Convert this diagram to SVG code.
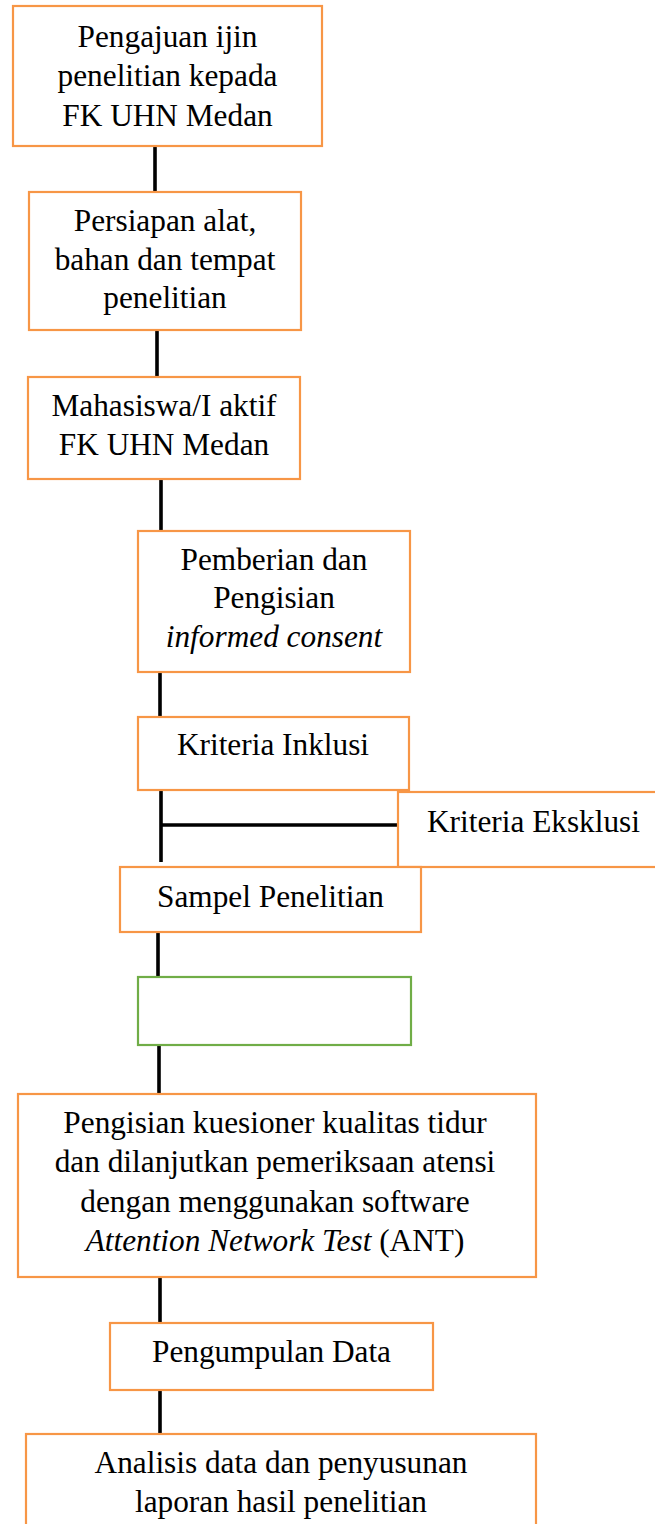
<svg xmlns="http://www.w3.org/2000/svg" width="655" height="1524" viewBox="0 0 655 1524">
<style>
.box{fill:#fff;stroke:#F79646;stroke-width:2.2}
.gbox{fill:#fff;stroke:#70AD47;stroke-width:2.2}
.con{stroke:#000;stroke-width:3.6;fill:none}
.t{font-family:'Liberation Serif','Times New Roman',Times,'DejaVu Serif',serif;font-size:31.3px;fill:#000;text-anchor:middle}
.it{font-style:italic}
</style>
<rect width="655" height="1524" fill="#fff"/>
<g id="connectors">
<line class="con" x1="155" y1="146" x2="155" y2="192"/>
<line class="con" x1="157" y1="330" x2="157" y2="377"/>
<line class="con" x1="161" y1="479" x2="161" y2="531"/>
<line class="con" x1="160" y1="672" x2="160" y2="717"/>
<line class="con" x1="161" y1="790" x2="161" y2="862"/>
<line class="con" x1="161" y1="825" x2="398" y2="825"/>
<line class="con" x1="158" y1="932" x2="158" y2="977"/>
<line class="con" x1="159" y1="1045" x2="159" y2="1094"/>
<line class="con" x1="160" y1="1277" x2="160" y2="1323"/>
<line class="con" x1="160" y1="1390" x2="160" y2="1434"/>
</g>
<g class="t" font-family="Liberation Serif, Times New Roman, serif">
<g id="n1">
<rect class="box" x="13" y="6" width="309" height="140"/>
<text x="167.5" y="47">Pengajuan ijin</text>
<text x="167.5" y="86">penelitian kepada</text>
<text x="167.5" y="126">FK UHN Medan</text>
</g>
<g id="n2">
<rect class="box" x="29" y="192" width="272" height="138"/>
<text x="165" y="231">Persiapan alat,</text>
<text x="165" y="270">bahan dan tempat</text>
<text x="165" y="308">penelitian</text>
</g>
<g id="n3">
<rect class="box" x="28" y="377" width="272" height="102"/>
<text x="164" y="416">Mahasiswa/I aktif</text>
<text x="164" y="455">FK UHN Medan</text>
</g>
<g id="n4">
<rect class="box" x="138" y="531" width="272" height="141"/>
<text x="274" y="570">Pemberian dan</text>
<text x="274" y="608">Pengisian</text>
<text x="274" y="647" class="it">informed consent</text>
</g>
<g id="n5">
<rect class="box" x="138" y="717" width="271" height="73"/>
<text x="273" y="755">Kriteria Inklusi</text>
</g>
<g id="n6">
<rect class="box" x="398" y="792" width="280" height="75"/>
<text x="533.5" y="832">Kriteria Eksklusi</text>
</g>
<g id="n7">
<rect class="box" x="120" y="867" width="301" height="65"/>
<text x="270.5" y="907">Sampel Penelitian</text>
</g>
<g id="n8">
<rect class="gbox" x="138" y="977" width="273" height="68"/>
</g>
<g id="n9">
<rect class="box" x="18" y="1094" width="518" height="183"/>
<text x="275" y="1133">Pengisian kuesioner kualitas tidur</text>
<text x="275" y="1172">dan dilanjutkan pemeriksaan atensi</text>
<text x="275" y="1212">dengan menggunakan software</text>
<text x="275" y="1251"><tspan class="it">Attention Network Test</tspan> (ANT)</text>
</g>
<g id="n10">
<rect class="box" x="110" y="1323" width="323" height="67"/>
<text x="271.5" y="1362">Pengumpulan Data</text>
</g>
<g id="n11">
<rect class="box" x="26" y="1434" width="510" height="110"/>
<text x="281" y="1473">Analisis data dan penyusunan</text>
<text x="281" y="1512">laporan hasil penelitian</text>
</g>
</g>
</svg>
